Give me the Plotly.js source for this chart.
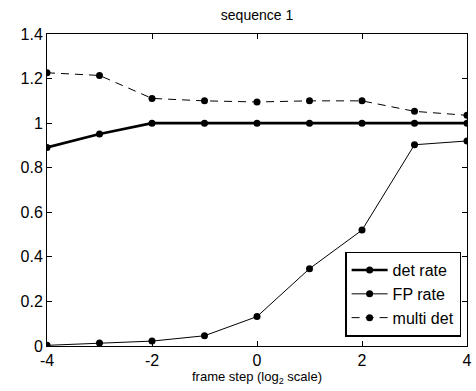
<!DOCTYPE html>
<html>
<head>
<meta charset="utf-8">
<script src="https://cdn.plot.ly/plotly-3.0.1.min.js"></script>
<style>html,body{margin:0;padding:0;background:#fff;}#chart{width:476px;height:391px;}</style>
</head>
<body>
<div id="chart"></div>
<script>
const frameStep = [-4, -3, -2, -1, 0, 1, 2, 3, 4];
const detRate = [0.891, 0.951, 1.0, 1.0, 1.0, 1.0, 1.0, 1.0, 1.0];
const fpRate = [0.003, 0.013, 0.022, 0.046, 0.132, 0.347, 0.52, 0.903, 0.92];
const multiDet = [1.226, 1.214, 1.111, 1.1, 1.095, 1.1, 1.1, 1.053, 1.035];
const seriesNames = ['det rate', 'FP rate', 'multi det'];
const xTicks = [-4, -2, 0, 2, 4];
const yTicks = [0, 0.2, 0.4, 0.6, 0.8, 1, 1.2, 1.4];

const font = 'Liberation Sans, Arial, sans-serif';
const traces = [
  {x: frameStep, y: detRate, name: seriesNames[0], mode: 'lines+markers',
   line: {color: '#000', width: 2.6}, marker: {color: '#000', size: 7}},
  {x: frameStep, y: fpRate, name: seriesNames[1], mode: 'lines+markers',
   line: {color: '#000', width: 1}, marker: {color: '#000', size: 7}},
  {x: frameStep, y: multiDet, name: seriesNames[2], mode: 'lines+markers',
   line: {color: '#000', width: 1, dash: '8px,6px'}, marker: {color: '#000', size: 7}}
];
const axisCommon = {
  showgrid: false, zeroline: false, showline: true, linecolor: '#000', linewidth: 1,
  mirror: 'ticks', ticks: 'inside', ticklen: 5, tickcolor: '#000', tickwidth: 1,
  tickfont: {family: font, size: 16, color: '#000'}
};
const layout = {
  width: 476, height: 391,
  margin: {l: 47, r: 9, t: 34, b: 45},
  paper_bgcolor: '#fff', plot_bgcolor: '#fff',
  showlegend: true,
  title: {text: 'sequence 1', font: {family: font, size: 14, color: '#000'},
          x: 0.54, xref: 'container', xanchor: 'center', y: 0.962, yref: 'container', yanchor: 'middle'},
  xaxis: Object.assign({}, axisCommon, {
    range: [-4, 4], tickvals: xTicks, ticktext: xTicks.map(String),
    title: {text: 'frame step (log<sub>2</sub> scale)', font: {family: font, size: 13, color: '#000'}, standoff: 0}
  }),
  yaxis: Object.assign({}, axisCommon, {
    range: [0, 1.4], tickvals: yTicks, ticktext: yTicks.map(String)
  }),
  legend: {
    x: 0.986, xanchor: 'right', y: 0.03, yanchor: 'bottom',
    bgcolor: '#fff', bordercolor: '#000', borderwidth: 1.5,
    font: {family: font, size: 16, color: '#000'},
    itemwidth: 36, tracegroupgap: 0
  }
};
Plotly.newPlot('chart', traces, layout, {displayModeBar: false, staticPlot: true});
</script>
</body>
</html>
